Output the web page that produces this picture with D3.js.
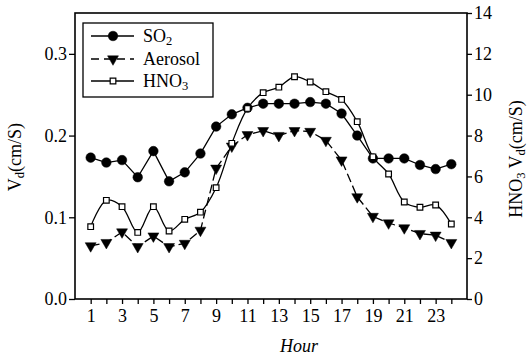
<!DOCTYPE html>
<html>
<head>
<meta charset="utf-8">
<script src="https://cdn.jsdelivr.net/npm/d3@7"></script>
<style>
  body { margin: 0; background: #fff; }
  text { font-family: "Liberation Serif", "Times New Roman", serif; fill: #000; }
</style>
</head>
<body>
<div id="chart"></div>
<script>
// Data
const hours = [1, 2, 3, 4, 5, 6, 7, 8, 9, 10, 11, 12, 13, 14, 15, 16, 17, 18, 19, 20, 21, 22, 23, 24];
const so2 = [0.173, 0.167, 0.170, 0.149, 0.181, 0.144, 0.155, 0.178, 0.211, 0.226, 0.234, 0.239,
  0.239, 0.239, 0.241, 0.239, 0.227, 0.200, 0.172, 0.172, 0.172, 0.164, 0.159, 0.165];
const aerosol = [0.065, 0.069, 0.082, 0.064, 0.077, 0.064, 0.068, 0.084, 0.160, 0.187, 0.201, 0.206,
  0.200, 0.206, 0.205, 0.194, 0.170, 0.125, 0.101, 0.093, 0.087, 0.080, 0.078, 0.069];
const hno3 = [3.54, 4.83, 4.52, 3.26, 4.52, 3.33, 3.90, 4.25, 5.45, 7.62, 9.33, 10.1,
  10.37, 10.88, 10.62, 10.15, 9.77, 8.68, 6.96, 6.12, 4.75, 4.49, 4.60, 3.67];
const leftTicks = [0, 0.1, 0.2, 0.3];
const rightTicks = [0, 2, 4, 6, 8, 10, 12, 14];
const hourLabels = [1, 3, 5, 7, 9, 11, 13, 15, 17, 19, 21, 23];

// Dimensions
const width = 531;
const height = 358;
const plot = {left: 75, right: 467, top: 13, bottom: 299};

const svg = d3.select('#chart')
  .append('svg')
    .attr('width', width)
    .attr('height', height)

// Scales
const x = d3.scaleLinear().domain([0, 25]).range([plot.left, plot.right]);
const yLeft = d3.scaleLinear().domain([0, 0.35]).range([plot.bottom, plot.top]);
const yRight = d3.scaleLinear().domain([0, 14]).range([plot.bottom, plot.top]);

// Axes
const fontSize = 18;
const subSize = 12.5;
const xAxis = d3.axisBottom(x)
  .tickValues(hours)
  .tickSize(5)
  .tickFormat((d) => hourLabels.includes(d) ? d : '')
const gx = svg.append('g')
  .attr('transform', `translate(0, ${plot.bottom})`)
  .call(xAxis)
gx.select('.domain').remove();
gx.selectAll('.tick text').attr('dy', '0.95em').attr('y', 6);

const gl = svg.append('g')
  .attr('transform', `translate(${plot.left}, 0)`)
  .call(d3.axisLeft(yLeft).tickValues(leftTicks).tickSize(6).tickPadding(2).tickFormat(d3.format('.1f')))
gl.select('.domain').remove();

const gr = svg.append('g')
  .attr('transform', `translate(${plot.right}, 0)`)
  .call(d3.axisRight(yRight).tickValues(rightTicks).tickSize(5).tickPadding(2))
gr.select('.domain').remove();

svg.selectAll('.tick line').attr('stroke', '#000').attr('stroke-width', 1.3);
svg.selectAll('.tick text')
  .style('font-family', '"Liberation Serif", serif')
  .style('font-size', `${fontSize}px`)
  .attr('fill', '#000')

// Frame
svg.append('rect')
  .attr('x', plot.left)
  .attr('y', plot.top)
  .attr('width', plot.right - plot.left)
  .attr('height', plot.bottom - plot.top)
  .attr('fill', 'none')
  .attr('stroke', '#000')
  .attr('stroke-width', 1.6)

// Axis titles
const leftTitle = svg.append('text')
  .attr('transform', `translate(21, 157) rotate(-90)`)
  .attr('text-anchor', 'middle')
  .style('font-size', `${fontSize}px`)
leftTitle.append('tspan').text('V');
leftTitle.append('tspan').attr('baseline-shift', '-25%').style('font-size', `${subSize}px`).text('d');
leftTitle.append('tspan').text('(cm/S)');

const rightTitle = svg.append('text')
  .attr('transform', `translate(522, 159) rotate(-90)`)
  .attr('text-anchor', 'middle')
  .style('font-size', `${fontSize}px`)
rightTitle.append('tspan').text('HNO');
rightTitle.append('tspan').attr('baseline-shift', '-25%').style('font-size', `${subSize}px`).text('3');
rightTitle.append('tspan').text(' V');
rightTitle.append('tspan').attr('baseline-shift', '-25%').style('font-size', `${subSize}px`).text('d');
rightTitle.append('tspan').text('(cm/S)');

svg.append('text')
  .attr('x', 299)
  .attr('y', 352)
  .attr('text-anchor', 'middle')
  .style('font-size', `${fontSize}px`)
  .style('font-style', 'italic')
  .text('Hour')

// Series
const series = [
  {name: 'SO2', values: so2, y: yLeft, symbol: d3.symbolCircle, size: 72, fill: '#000', dash: null, curve: d3.curveLinear},
  {name: 'Aerosol', values: aerosol, y: yLeft, symbol: d3.symbolTriangle, size: 52, fill: '#000', dash: '9,4', curve: d3.curveLinear},
  {name: 'HNO3', values: hno3, y: yRight, symbol: d3.symbolSquare, size: 32, fill: '#fff', dash: null, curve: d3.curveCatmullRom.alpha(0.5)}
];

const marker = (g, s) => {
  g.append('path')
    .attr('d', d3.symbol().type(s.symbol).size(s.size))
    .attr('transform', (s.symbol === d3.symbolTriangle) ? 'rotate(180)' : null)
    .attr('fill', s.fill)
    .attr('stroke', '#000')
    .attr('stroke-width', s.fill === '#fff' ? 1.2 : 0.5)
}

series.forEach((s) => {
  const line = d3.line()
    .x((d, i) => x(hours[i]))
    .y((d) => s.y(d))
    .curve(s.curve)
  svg.append('path')
    .datum(s.values)
    .attr('d', line)
    .attr('fill', 'none')
    .attr('stroke', '#000')
    .attr('stroke-width', 1.3)
    .attr('stroke-dasharray', s.dash)
});

series.forEach((s) => {
  svg.append('g')
    .selectAll('g')
    .data(s.values)
    .join('g')
      .attr('transform', (d, i) => `translate(${x(hours[i])}, ${s.y(d)})`)
      .each(function () { marker(d3.select(this), s); })
});

// Legend
const legend = svg.append('g');
legend.append('rect')
  .attr('x', 83)
  .attr('y', 23)
  .attr('width', 130)
  .attr('height', 74)
  .attr('fill', '#fff')
  .attr('stroke', '#000')
  .attr('stroke-width', 1.3)
const rowY = [36, 59, 81];
series.forEach((s, i) => {
  const row = legend.append('g').attr('transform', `translate(0, ${rowY[i]})`);
  row.append('line')
    .attr('x1', 91)
    .attr('x2', 134)
    .attr('stroke', '#000')
    .attr('stroke-width', 1.3)
    .attr('stroke-dasharray', s.dash ? '8,5' : null)
  marker(row.append('g').attr('transform', 'translate(113, 0)'), s);
  const label = row.append('text')
    .attr('x', 143)
    .attr('y', 6)
    .style('font-size', `${fontSize}px`)
  if (s.name === 'SO2') {
    label.append('tspan').text('SO');
    label.append('tspan').attr('baseline-shift', '-25%').style('font-size', `${subSize}px`).text('2');
  } else if (s.name === 'HNO3') {
    label.append('tspan').text('HNO');
    label.append('tspan').attr('baseline-shift', '-25%').style('font-size', `${subSize}px`).text('3');
  } else {
    label.text(s.name);
  }
});
</script>
</body>
</html>
